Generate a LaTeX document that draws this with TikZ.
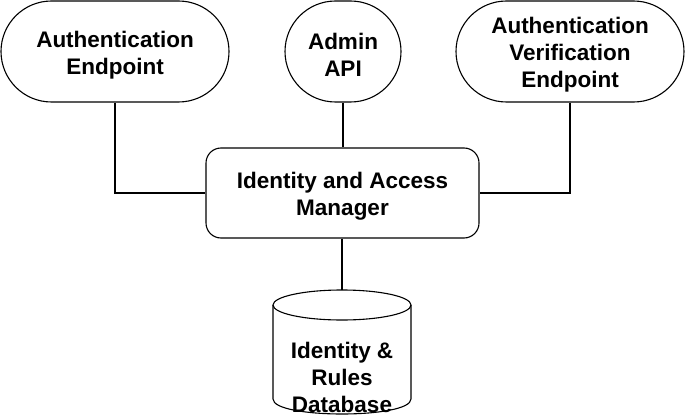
\documentclass[tikz,border=0pt]{standalone}
\usepackage{fontspec}
\setmainfont{Liberation Sans}
\usetikzlibrary{shapes}
\usetikzlibrary{positioning}
\newcommand{\lowr}{\rule{0pt}{23pt}}

\begin{document}
\begin{tikzpicture}[x=1pt,y=-1pt,line width=1.1pt,
        txt/.style={font=\bfseries\fontsize{22.5}{27}\selectfont, align=center},
        endpoint/.style={draw, txt, rounded rectangle, minimum height=101pt, inner sep=0pt},
        manager/.style={draw, txt, rectangle, rounded corners=15pt, minimum width=273pt, minimum height=90pt}]
        \useasboundingbox (0,0) rectangle (685,417);
    %Endpoints
        \path node[endpoint, minimum width=228pt] (authep) at (115,51.5) {\lowr Authentication\\Endpoint};
        \path node[endpoint, minimum width=116pt] (admin) at (343,51.5) {\lowr Admin\\API};
        \path node[endpoint, minimum width=228pt] (verify) at (570,51.5) {\lowr Authentication\\Verification\\Endpoint};
    %Manager
        \path node[manager] (iam) at (342.5,193) {\lowr Identity and Access\\Manager};
    %Database
        \draw (273,305) -- (273,399) .. controls (273,419) and (411,419) .. (411,399) -- (411,305);
        \draw (342,305) ellipse (69 and 15);
        \path coordinate (dbtop) at (342,290);
        \path node[txt] (db) at (342,377) {Identity \&\\Rules\\Database};
    %Links
        \draw (authep.south) |- (iam.west);
        \draw (admin.south) -- (iam.north -| admin.south);
        \draw (verify.south) |- (iam.east);
        \draw (iam.south -| dbtop) -- (dbtop);
\end{tikzpicture}
\end{document}
